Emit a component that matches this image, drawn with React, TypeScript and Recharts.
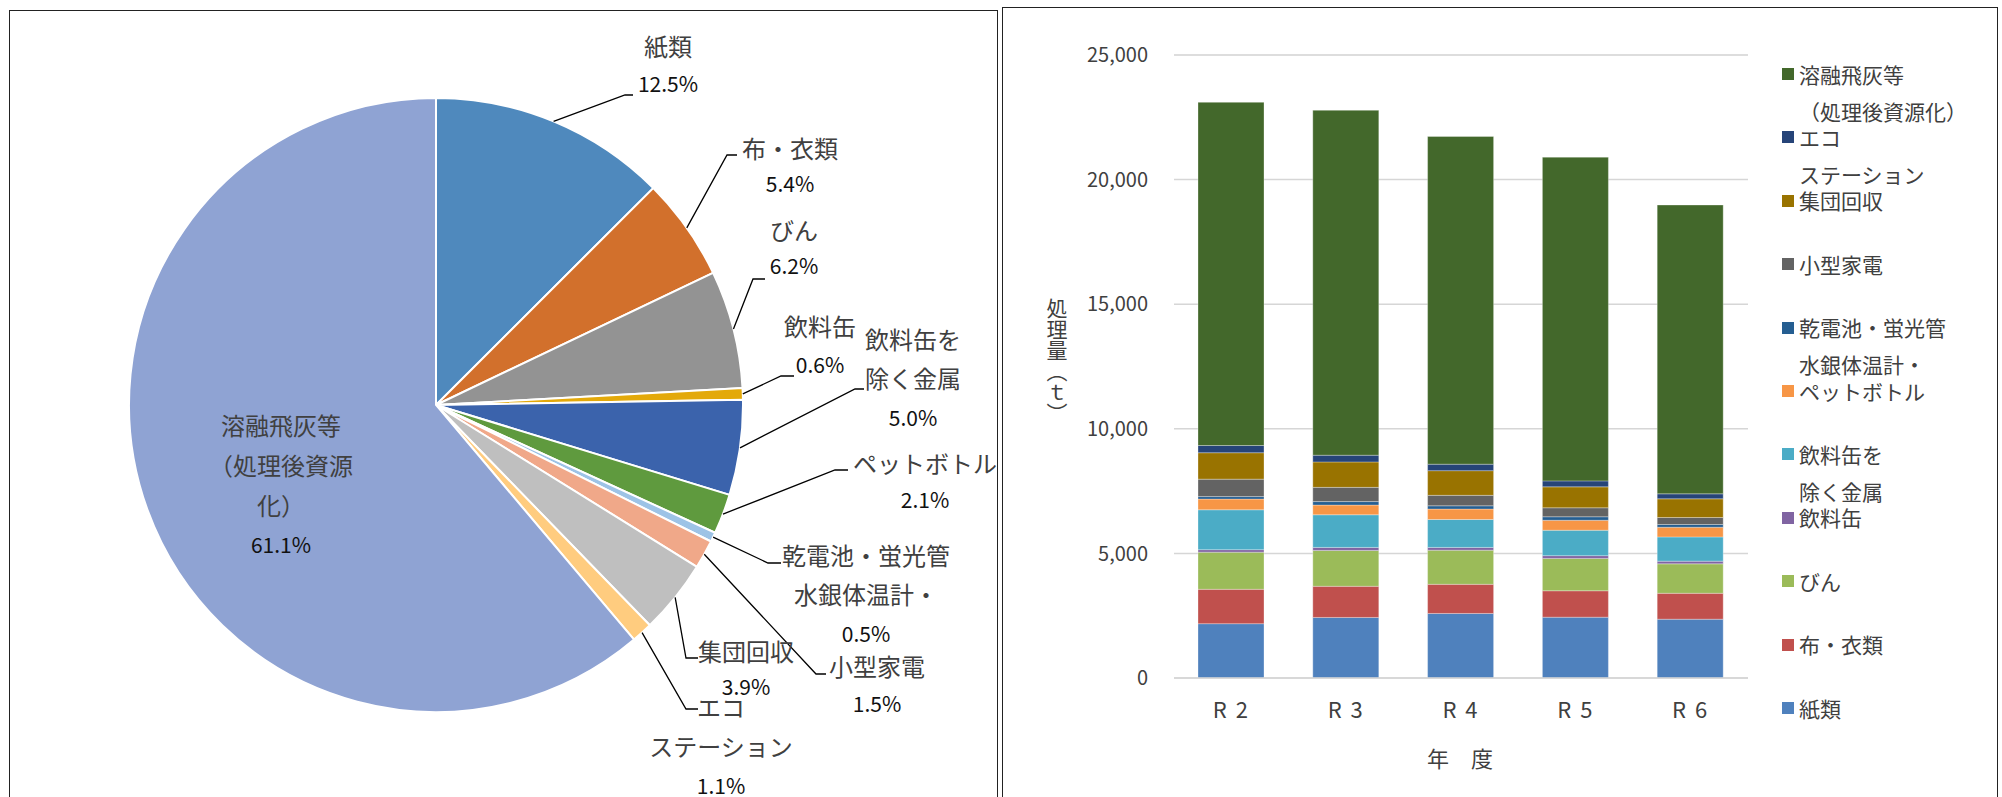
import React from 'react';
import { PieChart, Pie, Cell, BarChart, Bar, XAxis, YAxis, CartesianGrid } from 'recharts';

const FONT = '"Noto Sans CJK JP", "Noto Sans", sans-serif';
const RAD = Math.PI / 180;

// ---- pie: R6 share (%)
const PIE_NAMES = [
  '紙類', '布・衣類', 'びん', '飲料缶', '飲料缶を除く金属', 'ペットボトル',
  '乾電池・蛍光管水銀体温計', '小型家電', '集団回収', 'エコステーション', '溶融飛灰等（処理後資源化）',
];
const PIE_PCT = [12.5, 5.4, 6.2, 0.6, 5.0, 2.1, 0.5, 1.5, 3.9, 1.1, 61.1];
const PIE_LABEL_LINES = [
  ['紙類'], ['布・衣類'], ['びん'], ['飲料缶'], ['飲料缶を', '除く金属'], ['ペットボトル'],
  ['乾電池・蛍光管', '水銀体温計・'], ['小型家電'], ['集団回収'], ['エコ', 'ステーション'],
  ['溶融飛灰等', '（処理後資源', '化）'],
];
const PIE_COLORS = [
  '#4F89BD', '#D2702C', '#939393', '#E3A90A', '#3B63AC', '#5F9A3E',
  '#9DC3E6', '#F0A889', '#BFBFBF', '#FFCC7F', '#8FA3D3',
];

// label placement relative to pie centre (layout only)
const PIE_LABEL_LAYOUT = [
  { dx: 232, dy: -360, gap: 38, elbow: [189, -310], end: 197 },
  { dx: 354, dy: -258, gap: 36, elbow: [291, -250], end: 301 },
  { dx: 358, dy: -176, gap: 36, elbow: [317, -126], end: 329 },
  { dx: 384, dy: -80, gap: 39, elbow: [345, -29], end: 358 },
  { dx: 477, dy: -67, gap: 39.5, elbow: [419, -16], end: 428 },
  { dx: 489, dy: 57, gap: 37, elbow: [399, 65], end: 412 },
  { dx: 430, dy: 149, gap: 39.5, elbow: [332, 158], end: 345 },
  { dx: 441, dy: 260, gap: 38, elbow: [380, 269], end: 390 },
  { dx: 310, dy: 245, gap: 36, elbow: [250, 253], end: 262 },
  { dx: 285, dy: 301, gap: 39.5, elbow: [250, 304], end: 262 },
  { dx: -155, dy: 19, gap: 40, elbow: null, end: 0 },
];

// ---- stacked bars (t)
const YEARS = ['R 2', 'R 3', 'R 4', 'R 5', 'R 6'];
const PAPER = [2180, 2430, 2590, 2440, 2360];
const CLOTH = [1380, 1250, 1170, 1060, 1040];
const BOTTLE = [1490, 1440, 1370, 1300, 1180];
const CAN = [100, 120, 110, 110, 110];
const METAL = [1600, 1310, 1120, 1020, 970];
const PET = [430, 390, 420, 400, 390];
const BATTERY = [100, 140, 130, 140, 110];
const SMALL_APPL = [700, 570, 420, 360, 280];
const GROUP = [1060, 1020, 990, 840, 750];
const ECO = [290, 270, 260, 240, 200];
const FLYASH = [13770, 13840, 13150, 12990, 11590];

const Y_MAJOR = [0, 5000, 10000, 15000, 20000, 25000];
const Y_MINOR = [
  0, 1000, 2000, 3000, 4000, 5000, 6000, 7000, 8000, 9000, 10000, 11000, 12000,
  13000, 14000, 15000, 16000, 17000, 18000, 19000, 20000, 21000, 22000, 23000, 24000, 25000,
];

const SERIES = [
  { key: 'paper', values: PAPER, color: '#4F81BD', legend: ['紙類'] },
  { key: 'cloth', values: CLOTH, color: '#C0504D', legend: ['布・衣類'] },
  { key: 'bottle', values: BOTTLE, color: '#9BBB59', legend: ['びん'] },
  { key: 'can', values: CAN, color: '#8064A2', legend: ['飲料缶'] },
  { key: 'metal', values: METAL, color: '#4BACC6', legend: ['飲料缶を', '除く金属'] },
  { key: 'pet', values: PET, color: '#F79646', legend: ['ペットボトル'] },
  { key: 'battery', values: BATTERY, color: '#255E91', legend: ['乾電池・蛍光管', '水銀体温計・'] },
  { key: 'small', values: SMALL_APPL, color: '#636363', legend: ['小型家電'] },
  { key: 'group', values: GROUP, color: '#997300', legend: ['集団回収'] },
  { key: 'eco', values: ECO, color: '#264478', legend: ['エコ', 'ステーション'] },
  { key: 'flyash', values: FLYASH, color: '#43682B', legend: ['溶融飛灰等', '（処理後資源化）'] },
];

const pieData = PIE_NAMES.map((name, i) => ({ name, value: PIE_PCT[i] }));
const barData = YEARS.map((year, i) => {
  const row: Record<string, any> = { year };
  SERIES.forEach(s => { row[s.key] = s.values[i]; });
  return row;
});

const polar = (cx: number, cy: number, r: number, angle: number) => ({
  x: cx + r * Math.cos(-angle * RAD),
  y: cy + r * Math.sin(-angle * RAD),
});

const renderPieLabel = (props: any) => {
  const { cx, cy, midAngle, outerRadius, index } = props;
  const lay = PIE_LABEL_LAYOUT[index];
  const lines = PIE_LABEL_LINES[index];
  const tx = cx + lay.dx;
  const ty = cy + lay.dy;
  const start = polar(cx, cy, outerRadius, midAngle);
  return (
    <g>
      {lay.elbow && (
        <polyline
          points={`${start.x},${start.y} ${cx + lay.elbow[0]},${cy + lay.elbow[1]} ${cx + lay.end},${cy + lay.elbow[1]}`}
          fill="none"
          stroke="#000"
          strokeWidth={1.3}
        />
      )}
      {lines.map((t, k) => (
        <text key={k} x={tx} y={ty + k * lay.gap} textAnchor="middle" dominantBaseline="central"
          fontSize={24} fill="#404040" fontFamily={FONT}>{t}</text>
      ))}
      <text x={tx} y={ty + lines.length * lay.gap} textAnchor="middle" dominantBaseline="central"
        fontSize={21} fill="#111" fontFamily={FONT}>{PIE_PCT[index].toFixed(1)}%</text>
    </g>
  );
};

const Legend = () => {
  const items = [...SERIES].reverse();
  return (
    <div style={{ position: 'absolute', left: 1782, top: 0, fontFamily: FONT, fontSize: 21, color: '#404040' }}>
      {items.map((s, i) => {
        const cy = 74 + i * 63.4;
        return (
          <div key={s.key} style={{ position: 'absolute', left: 0, top: cy - 18.5, whiteSpace: 'nowrap' }}>
            <div style={{ position: 'absolute', left: 0, top: 12.5, width: 12, height: 12, background: s.color }} />
            {s.legend.map((t, k) => (
              <div key={k} style={{ position: 'absolute', left: 17, top: k * 37, height: 37, lineHeight: '37px' }}>{t}</div>
            ))}
          </div>
        );
      })}
    </div>
  );
};

export default function App() {
  return (
    <div style={{ position: 'absolute', left: 0, top: 0, width: 2002, height: 797, overflow: 'hidden', background: '#fff' }}>
      <div style={{ position: 'absolute', left: 9, top: 10, width: 987, height: 820, border: '1.5px solid #222' }} />
      <div style={{ position: 'absolute', left: 1002, top: 7, width: 994, height: 820, border: '1.5px solid #222' }} />

      <div style={{ position: 'absolute', left: 0, top: 0 }}>
        <PieChart width={1000} height={797} margin={{ top: 0, right: 0, bottom: 0, left: 0 }}>
          <Pie
            data={pieData}
            dataKey="value"
            cx={436}
            cy={405}
            outerRadius={307}
            startAngle={90}
            endAngle={-270}
            stroke="#fff"
            strokeWidth={2}
            label={renderPieLabel}
            labelLine={false}
            isAnimationActive={false}
          >
            {pieData.map((d, i) => <Cell key={d.name} fill={PIE_COLORS[i]} />)}
          </Pie>
        </PieChart>
      </div>

      <div style={{ position: 'absolute', left: 1002, top: 0 }}>
        <BarChart width={996} height={797} data={barData} margin={{ top: 55, right: 250, bottom: 59, left: 72 }}>
          <CartesianGrid yAxisId="minor" vertical={false} stroke="#eeeeee" strokeWidth={1.5} />
          <CartesianGrid vertical={false} stroke="#d6d6d6" strokeWidth={1.5} />
          <YAxis yAxisId="minor" hide domain={[0, 25000]} ticks={Y_MINOR} />
          <YAxis
            domain={[0, 25000]}
            ticks={Y_MAJOR}
            width={100}
            tickLine={false}
            axisLine={false}
            tickSize={0}
            tickMargin={26}
            tickFormatter={(v: number) => v.toLocaleString('en-US')}
            tick={{ fontSize: 20, fill: '#404040', fontFamily: FONT }}
          />
          <XAxis
            dataKey="year"
            height={60}
            tickLine={false}
            axisLine={{ stroke: '#d6d6d6', strokeWidth: 1.5 }}
            tickSize={0}
            tickMargin={24}
            tick={{ fontSize: 22, fill: '#404040', fontFamily: FONT, letterSpacing: 2 }}
          />
          {SERIES.map(s => (
            <Bar key={s.key} dataKey={s.key} stackId="a" fill={s.color} barSize={66}
              stroke="#fff" strokeOpacity={0.3} strokeWidth={1} isAnimationActive={false} />
          ))}
        </BarChart>
      </div>

      <div style={{ position: 'absolute', left: 1046, top: 298, writingMode: 'vertical-rl', fontFamily: FONT, fontSize: 21, lineHeight: 1, color: '#404040' }}>
        処理量（ｔ）
      </div>
      <div style={{ position: 'absolute', left: 1360, width: 200, top: 742, textAlign: 'center', fontFamily: FONT, fontSize: 22, lineHeight: '30px', color: '#404040' }}>
        年　度
      </div>
      <Legend />
    </div>
  );
}
